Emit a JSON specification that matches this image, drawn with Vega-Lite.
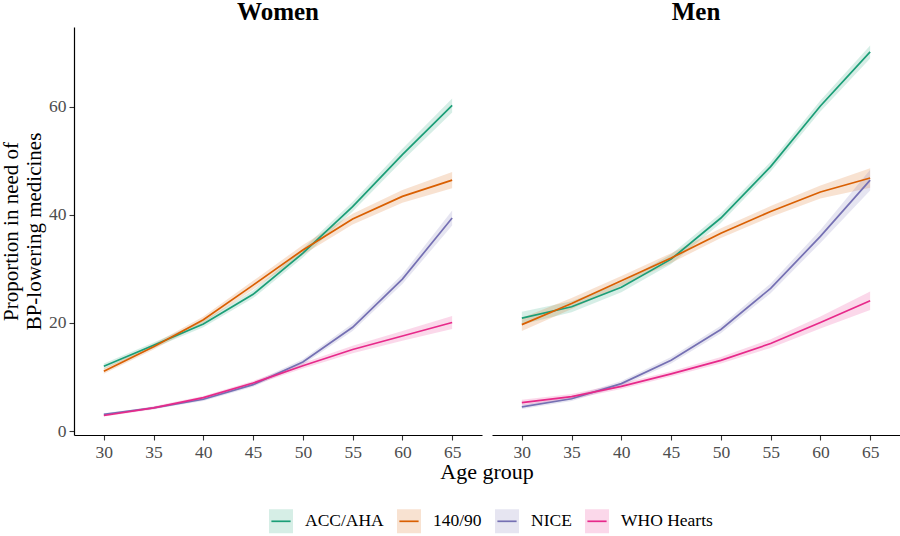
{
  "$schema": "https://vega.github.io/schema/vega-lite/v6.json",
  "padding": {"left": 0, "top": 0, "right": 0, "bottom": 0},
  "background": "white",
  "data": {"values": [
    {"sex":"Women","guideline":"ACC/AHA","age":30,"value":12.0,"lower":11.5,"upper":12.5},
    {"sex":"Women","guideline":"ACC/AHA","age":35,"value":15.9,"lower":15.4,"upper":16.4},
    {"sex":"Women","guideline":"ACC/AHA","age":40,"value":19.8,"lower":19.2,"upper":20.4},
    {"sex":"Women","guideline":"ACC/AHA","age":45,"value":25.3,"lower":24.6,"upper":26.0},
    {"sex":"Women","guideline":"ACC/AHA","age":50,"value":32.9,"lower":32.1,"upper":33.7},
    {"sex":"Women","guideline":"ACC/AHA","age":55,"value":41.5,"lower":40.6,"upper":42.4},
    {"sex":"Women","guideline":"ACC/AHA","age":60,"value":51.1,"lower":50.0,"upper":52.2},
    {"sex":"Women","guideline":"ACC/AHA","age":65,"value":60.2,"lower":58.9,"upper":61.5},
    {"sex":"Women","guideline":"140/90","age":30,"value":11.1,"lower":10.6,"upper":11.6},
    {"sex":"Women","guideline":"140/90","age":35,"value":15.6,"lower":15.1,"upper":16.1},
    {"sex":"Women","guideline":"140/90","age":40,"value":20.6,"lower":20.0,"upper":21.2},
    {"sex":"Women","guideline":"140/90","age":45,"value":27.0,"lower":26.2,"upper":27.8},
    {"sex":"Women","guideline":"140/90","age":50,"value":33.5,"lower":32.6,"upper":34.4},
    {"sex":"Women","guideline":"140/90","age":55,"value":39.2,"lower":38.2,"upper":40.2},
    {"sex":"Women","guideline":"140/90","age":60,"value":43.4,"lower":42.2,"upper":44.6},
    {"sex":"Women","guideline":"140/90","age":65,"value":46.4,"lower":44.9,"upper":47.9},
    {"sex":"Women","guideline":"NICE","age":30,"value":3.1,"lower":2.9,"upper":3.3},
    {"sex":"Women","guideline":"NICE","age":35,"value":4.3,"lower":4.1,"upper":4.5},
    {"sex":"Women","guideline":"NICE","age":40,"value":5.9,"lower":5.6,"upper":6.2},
    {"sex":"Women","guideline":"NICE","age":45,"value":8.6,"lower":8.2,"upper":9.0},
    {"sex":"Women","guideline":"NICE","age":50,"value":12.8,"lower":12.3,"upper":13.3},
    {"sex":"Women","guideline":"NICE","age":55,"value":19.2,"lower":18.5,"upper":19.9},
    {"sex":"Women","guideline":"NICE","age":60,"value":28.1,"lower":27.2,"upper":29.0},
    {"sex":"Women","guideline":"NICE","age":65,"value":39.4,"lower":38.0,"upper":40.8},
    {"sex":"Women","guideline":"WHO Hearts","age":30,"value":2.9,"lower":2.7,"upper":3.1},
    {"sex":"Women","guideline":"WHO Hearts","age":35,"value":4.3,"lower":4.0,"upper":4.6},
    {"sex":"Women","guideline":"WHO Hearts","age":40,"value":6.2,"lower":5.9,"upper":6.5},
    {"sex":"Women","guideline":"WHO Hearts","age":45,"value":8.9,"lower":8.5,"upper":9.3},
    {"sex":"Women","guideline":"WHO Hearts","age":50,"value":12.1,"lower":11.6,"upper":12.6},
    {"sex":"Women","guideline":"WHO Hearts","age":55,"value":15.1,"lower":14.4,"upper":15.8},
    {"sex":"Women","guideline":"WHO Hearts","age":60,"value":17.6,"lower":16.7,"upper":18.5},
    {"sex":"Women","guideline":"WHO Hearts","age":65,"value":20.1,"lower":18.9,"upper":21.3},
    {"sex":"Men","guideline":"ACC/AHA","age":30,"value":20.9,"lower":19.7,"upper":22.1},
    {"sex":"Men","guideline":"ACC/AHA","age":35,"value":23.0,"lower":22.0,"upper":24.0},
    {"sex":"Men","guideline":"ACC/AHA","age":40,"value":26.6,"lower":25.7,"upper":27.5},
    {"sex":"Men","guideline":"ACC/AHA","age":45,"value":31.8,"lower":30.9,"upper":32.7},
    {"sex":"Men","guideline":"ACC/AHA","age":50,"value":39.4,"lower":38.5,"upper":40.3},
    {"sex":"Men","guideline":"ACC/AHA","age":55,"value":48.9,"lower":48.0,"upper":49.8},
    {"sex":"Men","guideline":"ACC/AHA","age":60,"value":60.1,"lower":59.1,"upper":61.1},
    {"sex":"Men","guideline":"ACC/AHA","age":65,"value":70.1,"lower":68.9,"upper":71.3},
    {"sex":"Men","guideline":"140/90","age":30,"value":19.7,"lower":18.5,"upper":20.9},
    {"sex":"Men","guideline":"140/90","age":35,"value":23.6,"lower":22.6,"upper":24.6},
    {"sex":"Men","guideline":"140/90","age":40,"value":27.8,"lower":26.9,"upper":28.7},
    {"sex":"Men","guideline":"140/90","age":45,"value":32.0,"lower":31.1,"upper":32.9},
    {"sex":"Men","guideline":"140/90","age":50,"value":36.6,"lower":35.7,"upper":37.5},
    {"sex":"Men","guideline":"140/90","age":55,"value":40.6,"lower":39.6,"upper":41.6},
    {"sex":"Men","guideline":"140/90","age":60,"value":44.2,"lower":43.0,"upper":45.4},
    {"sex":"Men","guideline":"140/90","age":65,"value":46.8,"lower":45.0,"upper":48.6},
    {"sex":"Men","guideline":"NICE","age":30,"value":4.5,"lower":4.1,"upper":4.9},
    {"sex":"Men","guideline":"NICE","age":35,"value":6.0,"lower":5.6,"upper":6.4},
    {"sex":"Men","guideline":"NICE","age":40,"value":8.8,"lower":8.3,"upper":9.3},
    {"sex":"Men","guideline":"NICE","age":45,"value":13.1,"lower":12.5,"upper":13.7},
    {"sex":"Men","guideline":"NICE","age":50,"value":18.8,"lower":18.1,"upper":19.5},
    {"sex":"Men","guideline":"NICE","age":55,"value":26.4,"lower":25.5,"upper":27.3},
    {"sex":"Men","guideline":"NICE","age":60,"value":36.0,"lower":34.8,"upper":37.2},
    {"sex":"Men","guideline":"NICE","age":65,"value":46.4,"lower":44.5,"upper":48.3},
    {"sex":"Men","guideline":"WHO Hearts","age":30,"value":5.3,"lower":4.8,"upper":5.8},
    {"sex":"Men","guideline":"WHO Hearts","age":35,"value":6.4,"lower":5.9,"upper":6.9},
    {"sex":"Men","guideline":"WHO Hearts","age":40,"value":8.3,"lower":7.8,"upper":8.8},
    {"sex":"Men","guideline":"WHO Hearts","age":45,"value":10.6,"lower":10.1,"upper":11.1},
    {"sex":"Men","guideline":"WHO Hearts","age":50,"value":13.1,"lower":12.5,"upper":13.7},
    {"sex":"Men","guideline":"WHO Hearts","age":55,"value":16.2,"lower":15.4,"upper":17.0},
    {"sex":"Men","guideline":"WHO Hearts","age":60,"value":20.1,"lower":19.0,"upper":21.2},
    {"sex":"Men","guideline":"WHO Hearts","age":65,"value":24.1,"lower":22.4,"upper":25.8}
  ]},
  "facet": {
    "column": {
      "field": "sex",
      "type": "nominal",
      "sort": ["Women", "Men"],
      "title": "Age group"
    }
  },
  "spacing": 10,
  "spec": {
    "width": 408,
    "height": 408,
    "layer": [
      {
        "mark": {"type": "area", "opacity": 1},
        "encoding": {
          "x": {"field": "age", "type": "quantitative"},
          "y": {"field": "lower", "type": "quantitative"},
          "y2": {"field": "upper"},
          "fill": {
            "field": "guideline",
            "type": "nominal",
            "scale": {
              "domain": ["ACC/AHA", "140/90", "NICE", "WHO Hearts"],
              "range": ["rgba(27,158,119,0.18)", "rgba(217,95,2,0.18)", "rgba(117,112,179,0.18)", "rgba(231,41,138,0.18)"]
            },
            "legend": {
              "title": null,
              "orient": "none",
              "direction": "horizontal",
              "legendX": 194,
              "legendY": 481
            }
          }
        }
      },
      {
        "mark": {"type": "line", "strokeWidth": 1.7},
        "encoding": {
          "x": {
            "field": "age",
            "type": "quantitative",
            "scale": {"domain": [27, 68], "nice": false, "zero": false},
            "axis": {
              "values": [30, 35, 40, 45, 50, 55, 60, 65],
              "title": null,
              "labelFont": "Liberation Serif",
              "labelFontSize": 17.5,
              "labelColor": "#4d4d4d",
              "labelPadding": 3
            }
          },
          "y": {
            "field": "value",
            "type": "quantitative",
            "scale": {"domain": [-0.7, 74.7], "nice": false, "zero": false},
            "axis": {
              "values": [0, 20, 40, 60],
              "title": ["Proportion in need of", "BP-lowering medicines"],
              "titlePadding": 4,
              "labelFont": "Liberation Serif",
              "labelFontSize": 17.5,
              "labelColor": "#4d4d4d"
            }
          },
          "stroke": {
            "field": "guideline",
            "type": "nominal",
            "scale": {
              "domain": ["ACC/AHA", "140/90", "NICE", "WHO Hearts"],
              "range": ["#1b9e77", "#d95f02", "#7570b3", "#e7298a"]
            },
            "legend": {
              "title": null,
              "orient": "none",
              "direction": "horizontal",
              "legendX": 194,
              "legendY": 481
            }
          }
        }
      }
    ]
  },
  "config": {
    "view": {"stroke": null},
    "font": "Liberation Serif",
    "header": {
      "labelFont": "Liberation Serif",
      "labelFontSize": 25,
      "labelFontWeight": "bold",
      "labelColor": "black",
      "labelOrient": "top",
      "labelPadding": 2,
      "titleOrient": "bottom",
      "titleFont": "Liberation Serif",
      "titleFontSize": 22,
      "titleFontWeight": "normal",
      "titleColor": "black",
      "titlePadding": -9
    },
    "axis": {
      "grid": false,
      "domainColor": "black",
      "domainWidth": 1.2,
      "tickColor": "#333333",
      "tickSize": 5,
      "tickWidth": 1.1,
      "labelFont": "Liberation Serif",
      "labelFontSize": 17.5,
      "labelColor": "#4d4d4d",
      "labelPadding": 3,
      "titleFont": "Liberation Serif",
      "titleFontSize": 21,
      "titleFontWeight": "normal",
      "titleColor": "black",
      "titlePadding": 6
    },
    "legend": {
      "symbolType": "M-0.8,0H0.8H1V-1H-1V1H1V0Z",
      "symbolSize": 576,
      "symbolStrokeWidth": 1.7,
      "symbolDash": [19.2, 300],
      "labelFont": "Liberation Serif",
      "labelFontSize": 17.5,
      "labelColor": "black",
      "columnPadding": 9,
      "labelOffset": 11
    }
  }
}
